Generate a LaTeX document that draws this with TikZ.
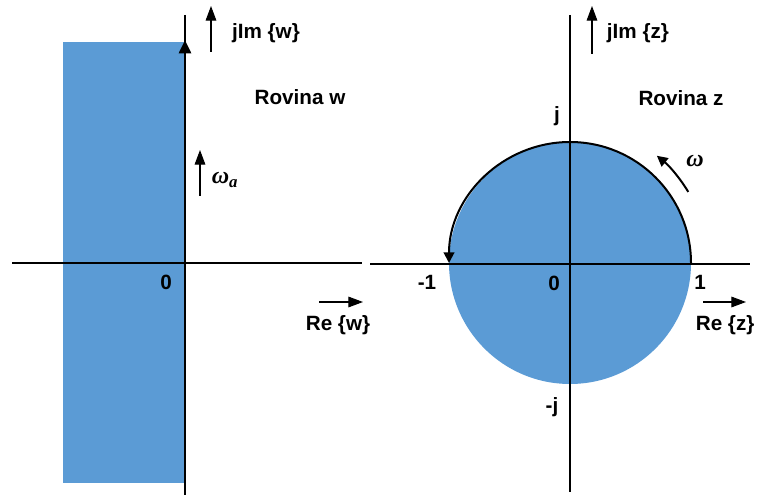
\documentclass[tikz,border=0pt]{standalone}
\usepackage{fontspec}
\setmainfont{Liberation Sans}
\newfontfamily\greekfont{Liberation Serif}
\usepackage{amsmath,amssymb}
\usepackage{xcolor}
\usetikzlibrary{arrows.meta,calc}
\definecolor{planeblue}{RGB}{91,155,213}

\begin{document}
\begin{tikzpicture}[x=0.75pt, y=-0.75pt, every node/.style={font=\bfseries\fontsize{15.5}{18}\selectfont, inner sep=1pt}]
  \tikzset{
    axisline/.style={line width=1.1pt, black},
    unitarrow/.style={-{Triangle[length=11pt,width=8pt]}, line width=0.8pt},
    arcarrow/.style={-{Triangle[length=8pt,width=8pt]}, line width=1.5pt},
    bigarrow/.style={-{Triangle[length=10pt,width=9pt]}, line width=2pt},
    greek/.style={font=\greekfont\bfseries\itshape\fontsize{18}{20}\selectfont}
  }
  \useasboundingbox (0,0) rectangle (757,495);

  % left plane
  \fill[planeblue] (63,42) rectangle (185,483);
  \coordinate (wO) at (185,263);
  \coordinate (wL) at (12,263);
  \coordinate (wR) at (362,263);
  \coordinate (wT) at (185,15);
  \coordinate (wB) at (185,495);
  \coordinate (wTop) at (185,40);
  \draw[axisline] (wL) -- (wR);
  \draw[axisline] (wT) -- (wB);
  \draw[bigarrow] (wO) -- (wTop);

  \node (w0) at (166,282) {0};
  \node (reW) at (338,325) {Re \{w\}};
  \coordinate (reWa) at (319,302);
  \coordinate (reWb) at (363,302);
  \draw[unitarrow] (reWa) -- (reWb);
  \node (imW) at (266,33) {jIm \{w\}};
  \coordinate (imWa) at (211,52);
  \coordinate (imWb) at (211,6);
  \draw[unitarrow] (imWa) -- (imWb);
  \node (rovW) at (300,97) {Rovina w};
  \coordinate (omAa) at (200,196);
  \coordinate (omAb) at (200,150);
  \draw[unitarrow] (omAa) -- (omAb);
  \node[greek] (omA) at (225,180) {ω\textsubscript{a}};

  % right plane
  \coordinate (zO) at (570,263);
  \fill[planeblue] (zO) circle (121);
  \coordinate (zL) at (370,264);
  \coordinate (zR) at (750,264);
  \coordinate (zT) at (570,15);
  \coordinate (zB) at (570,492);
  \draw[axisline] (zL) -- (zR);
  \draw[axisline] (zT) -- (zB);
  \draw[arcarrow] ($(zO)+(0:121)$) arc (0:-180:121);
  \draw[arcarrow] ($(zO)+(-31:138)$) arc (-31:-51:138);
  \node[greek] (om) at (695,161) {ω};

  \node (zj) at (557,116) {j};
  \node (zmj) at (552,407) {-j};
  \node (zm1) at (427,282) {-1};
  \node (z0) at (554,283) {0};
  \node (z1) at (700,282) {1};
  \node[anchor=east] (reZ) at (756,325) {Re \{z\}};
  \coordinate (reZa) at (703,302);
  \coordinate (reZb) at (746,302);
  \draw[unitarrow] (reZa) -- (reZb);
  \node (imZ) at (638,33) {jIm \{z\}};
  \coordinate (imZa) at (592,54);
  \coordinate (imZb) at (592,6);
  \draw[unitarrow] (imZa) -- (imZb);
  \node (rovZ) at (681,98) {Rovina z};
\end{tikzpicture}
\end{document}
